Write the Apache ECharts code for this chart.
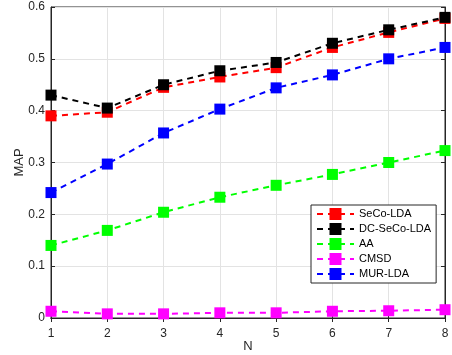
<!DOCTYPE html>
<html>
<head>
<meta charset="utf-8">
<script src="https://cdn.jsdelivr.net/npm/echarts@6/dist/echarts.min.js"></script>
<style>html,body{margin:0;padding:0;background:#fff}#c{width:452px;height:355px}</style>
</head>
<body>
<div id="c"></div>
<script>
var N = [1, 2, 3, 4, 5, 6, 7, 8];
var seco = [0.390, 0.397, 0.445, 0.465, 0.483, 0.522, 0.551, 0.578];
var dcseco = [0.430, 0.405, 0.450, 0.477, 0.493, 0.530, 0.556, 0.580];
var aa = [0.140, 0.169, 0.204, 0.233, 0.256, 0.277, 0.300, 0.323];
var cmsd = [0.013, 0.008, 0.008, 0.010, 0.010, 0.013, 0.014, 0.016];
var mur = [0.242, 0.297, 0.357, 0.403, 0.444, 0.469, 0.500, 0.522];
var yTicks = [0, 0.1, 0.2, 0.3, 0.4, 0.5, 0.6];

var names = ['SeCo-LDA', 'DC-SeCo-LDA', 'AA', 'CMSD', 'MUR-LDA'];
var colors = ['#ff0000', '#000000', '#00ff00', '#ff00ff', '#0000ff'];
var vals = [seco, dcseco, aa, cmsd, mur];

function pairs(v) { return N.map(function (n, i) { return [n, v[i]]; }); }

var font = '"Liberation Sans", Arial, sans-serif';
var chart = echarts.init(document.getElementById('c'));
var series = names.map(function (nm, k) {
  return {
    name: nm, type: 'line', data: pairs(vals[k]),
    symbol: 'rect', symbolSize: 11,
    lineStyle: { color: colors[k], width: 2, type: [6, 5] },
    itemStyle: { color: colors[k] },
    z: 2 + k, animation: false
  };
});

chart.setOption({
  animation: false,
  grid: { left: 51, right: 7, top: 7, bottom: 37, show: true, borderColor: '#262626', borderWidth: 1,
    containLabel: false, outerBoundsMode: 'none' },
  xAxis: [{
    type: 'value', min: 1, max: 8, interval: 1,
    name: 'N', nameLocation: 'middle', nameGap: 22, nameMoveOverlap: false,
    nameTextStyle: { fontFamily: font, fontSize: 13, color: '#262626', verticalAlign: 'top' },
    axisLine: { lineStyle: { color: '#262626' } },
    axisTick: { inside: true, length: 4, lineStyle: { color: '#262626' } },
    axisLabel: { fontFamily: font, fontSize: 12, color: '#262626', margin: 10 },
    splitLine: { show: true, lineStyle: { color: '#e3e3e3' } }
  }, {
    type: 'value', position: 'top', min: 1, max: 8, interval: 1,
    axisLine: { show: true, lineStyle: { color: '#262626' } },
    axisTick: { inside: true, length: 4, lineStyle: { color: '#262626' } },
    axisLabel: { show: false }, splitLine: { show: false }
  }],
  yAxis: [{
    type: 'value', min: 0, max: 0.6, interval: 0.1,
    name: 'MAP', nameLocation: 'middle', nameGap: 25, nameMoveOverlap: false,
    nameTextStyle: { fontFamily: font, fontSize: 13, color: '#262626' },
    axisLine: { show: true, lineStyle: { color: '#262626' } },
    axisTick: { show: true, inside: true, length: 4, lineStyle: { color: '#262626' } },
    axisLabel: { fontFamily: font, fontSize: 12, color: '#262626', margin: 6,
      formatter: function (v) { return yTicks.indexOf(Math.round(v * 10) / 10) >= 0 ? String(Math.round(v * 10) / 10) : ''; } },
    splitLine: { show: true, lineStyle: { color: '#e3e3e3' } }
  }, {
    type: 'value', position: 'right', min: 0, max: 0.6, interval: 0.1,
    axisLine: { show: true, lineStyle: { color: '#262626' } },
    axisTick: { show: true, inside: true, length: 4, lineStyle: { color: '#262626' } },
    axisLabel: { show: false }, splitLine: { show: false }
  }],
  legend: {
    data: names, orient: 'vertical', left: 311, top: 205,
    backgroundColor: '#fff', borderColor: '#262626', borderWidth: 1,
    padding: [3, 5, 3, 5], itemGap: 3, itemWidth: 37, itemHeight: 15,
    textStyle: { fontFamily: font, fontSize: 11, color: '#000' }
  },
  series: series
});
</script>
</body>
</html>
